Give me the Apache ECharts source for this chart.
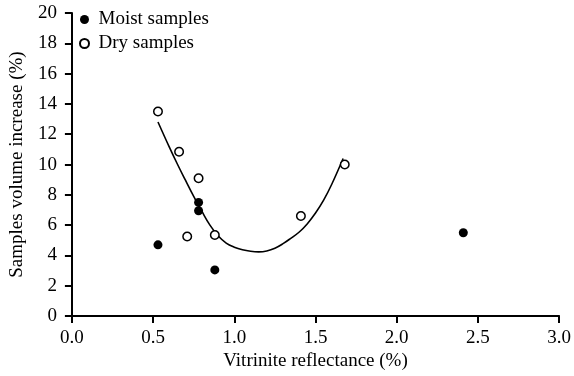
<!DOCTYPE html>
<html>
<head>
<meta charset="utf-8">
<script src="https://cdn.jsdelivr.net/npm/echarts@6/dist/echarts.min.js"></script>
<style>html,body{margin:0;padding:0;background:#fff}#c{width:574px;height:376px}</style>
</head>
<body>
<div id="c"></div>
<script>
var xTicks = [0.0, 0.5, 1.0, 1.5, 2.0, 2.5, 3.0];
var yTicks = [0, 2, 4, 6, 8, 10, 12, 14, 16, 18, 20];
var moistX = [0.53, 0.78, 0.78, 0.88, 2.41];
var moistY = [4.7, 7.5, 6.95, 3.05, 5.5];
var dryX = [0.53, 0.66, 0.78, 0.71, 0.88, 1.41, 1.68];
var dryY = [13.5, 10.85, 9.1, 5.25, 5.35, 6.6, 10.0];
var fitX = [0.53, 0.60, 0.65, 0.70, 0.75, 0.80, 0.85, 0.90, 0.95, 1.00, 1.05, 1.10, 1.15, 1.20, 1.25, 1.30, 1.35, 1.40, 1.45, 1.50, 1.55, 1.60, 1.67];
var fitY = [12.81, 11.15, 10.02, 8.95, 7.9, 6.92, 6.0, 5.3, 4.82, 4.55, 4.38, 4.28, 4.24, 4.30, 4.48, 4.78, 5.15, 5.55, 6.1, 6.8, 7.65, 8.7, 10.4];

function pairs(xs, ys) { return xs.map(function (x, i) { return [x, ys[i]]; }); }

var font = '"Liberation Serif", "Times New Roman", serif';
var chart = echarts.init(document.getElementById('c'), null, {renderer: 'canvas'});
chart.setOption({
  animation: false,
  backgroundColor: '#fff',
  textStyle: {fontFamily: font, color: '#000'},
  grid: {left: 70, right: 13, top: 13, bottom: 57, containLabel: false},
  legend: {
    orient: 'vertical', left: 74, top: 5,
    itemWidth: 18, itemHeight: 9, itemGap: 5,
    textStyle: {fontFamily: font, fontSize: 19, color: '#000', lineHeight: 18},
    data: [
      {name: 'Moist samples', icon: 'circle'},
      {name: 'Dry samples', icon: 'circle'}
    ]
  },
  xAxis: {
    type: 'value', min: 0, max: 3, interval: 0.5,
    name: 'Vitrinite reflectance (%)', nameLocation: 'middle', nameGap: 30,
    nameTextStyle: {fontFamily: font, fontSize: 19, color: '#000'},
    axisLine: {show: true, lineStyle: {color: '#000', width: 2}},
    axisTick: {show: true, length: 7, lineStyle: {color: '#000', width: 2}},
    axisLabel: {fontFamily: font, fontSize: 19, color: '#000', margin: 12,
      formatter: function (v) { return v.toFixed(1); }},
    splitLine: {show: false}
  },
  yAxis: {
    type: 'value', min: 0, max: 20, interval: 2,
    name: 'Samples volume increase (%)', nameLocation: 'middle', nameGap: 42, nameRotate: 90,
    nameTextStyle: {fontFamily: font, fontSize: 19, color: '#000'},
    axisLine: {show: true, lineStyle: {color: '#000', width: 2}},
    axisTick: {show: true, length: 7, lineStyle: {color: '#000', width: 2}},
    axisLabel: {fontFamily: font, fontSize: 19, color: '#000', margin: 15},
    splitLine: {show: false}
  },
  series: [
    {
      name: 'Fit', type: 'line', data: pairs(fitX, fitY), smooth: 0.4,
      showSymbol: false, symbol: 'none',
      lineStyle: {color: '#000', width: 1.6}, z: 1, silent: true
    },
    {
      name: 'Moist samples', type: 'scatter', data: pairs(moistX, moistY),
      symbol: 'circle', symbolSize: 9,
      itemStyle: {color: '#000', borderColor: '#000', borderWidth: 0, opacity: 1}, z: 3
    },
    {
      name: 'Dry samples', type: 'scatter', data: pairs(dryX, dryY),
      symbol: 'circle', symbolSize: 8.5,
      itemStyle: {color: '#fff', borderColor: '#000', borderWidth: 1.5, opacity: 1}, z: 3
    }
  ]
});
</script>
</body>
</html>
